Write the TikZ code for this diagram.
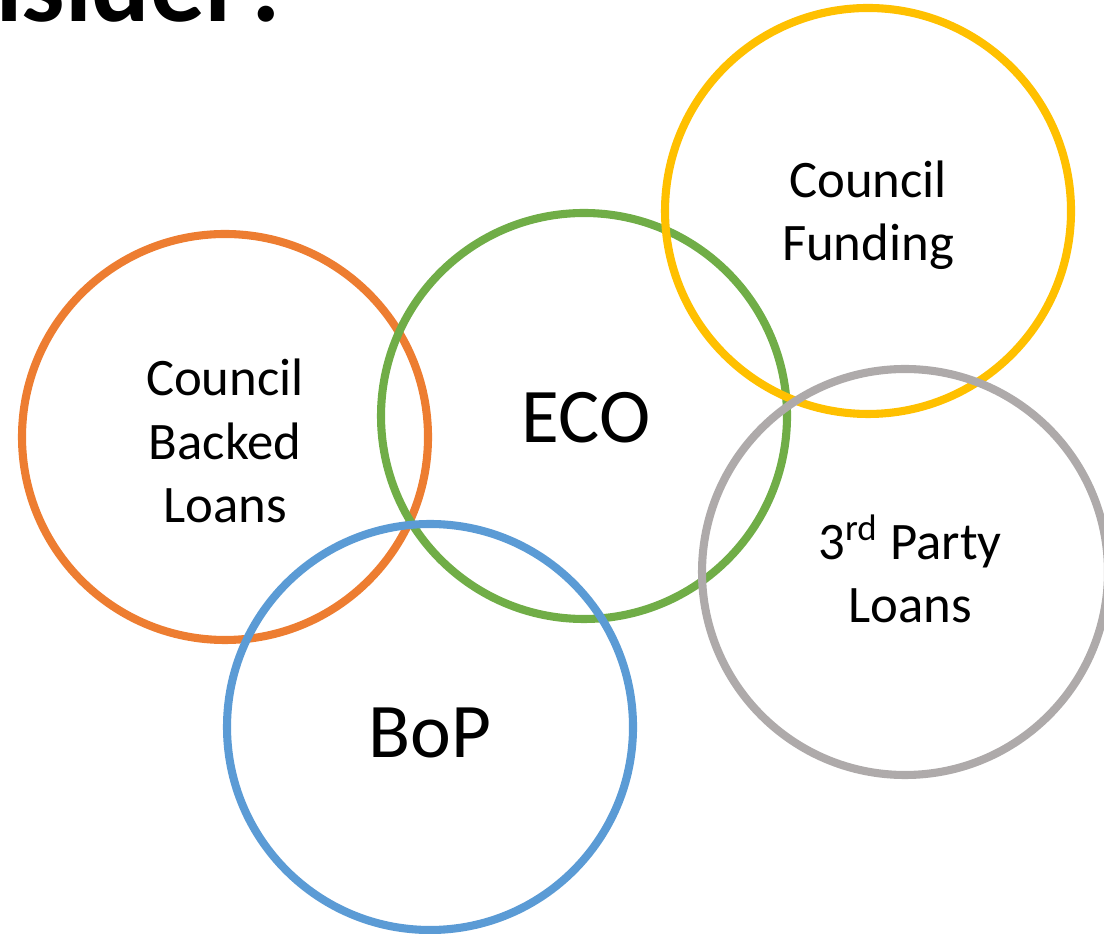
\documentclass[tikz,border=0pt]{standalone}
\usepackage{fontspec}
\setmainfont{Carlito}
\definecolor{loanorange}{HTML}{ED7D31}
\definecolor{ecogreen}{HTML}{70AD47}
\definecolor{fundyellow}{HTML}{FFC000}
\definecolor{partygrey}{HTML}{AEAAAA}
\definecolor{bopblue}{HTML}{5B9BD5}
\tikzset{
	ring/.style={line width=2.3pt},
	small/.style={align=center,font=\fontsize{15}{18}\selectfont},
	big/.style={font=\fontsize{22}{27}\selectfont}
}
\begin{document}
\begin{tikzpicture}
\useasboundingbox (0,0) rectangle (11.04,9.33);
% circles
\foreach \x/\y/\c in {2.25/4.96/loanorange,5.84/5.17/ecogreen,8.68/7.22/fundyellow,9.05/3.61/partygrey,4.30/2.06/bopblue}
	\draw [ring,\c] (\x,\y) circle (2.03);
% labels
\node (title) [anchor=base east,inner sep=0pt,font=\bfseries\fontsize{31}{37}\selectfont] at (2.95,9.11) {Consider?};
\node (backed) [small] at (2.25,4.92) {Council\\Backed\\Loans};
\node (eco) [big] at (5.86,5.15) {ECO};
\node (funding) [small] at (8.68,7.18) {Council\\Funding};
\node (party) [small] at (9.10,3.64) {3\textsuperscript{rd} Party\\Loans};
\node (bop) [big] at (4.30,2.00) {BoP};
\end{tikzpicture}
\end{document}
